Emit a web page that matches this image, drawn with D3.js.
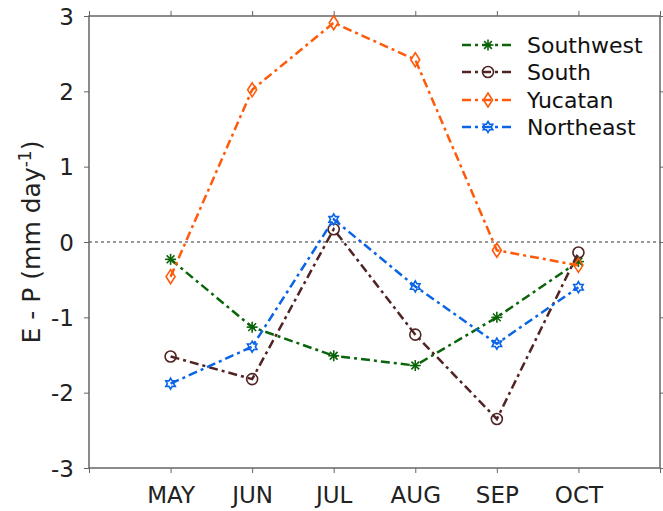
<!DOCTYPE html>
<html><head><meta charset="utf-8">
<script src="https://cdn.jsdelivr.net/npm/d3@7"></script>
<style>body{margin:0;background:#fff}svg{display:block}text{font-family:"DejaVu Sans",sans-serif}</style>
</head><body><svg id="c" width="663" height="511"></svg>
<script>
const months = ["MAY","JUN","JUL","AUG","SEP","OCT"];
const yTicks = [-3,-2,-1,0,1,2,3];
const seriesNames = ["Southwest","South","Yucatan","Northeast"];
const southwest = [-0.23,-1.13,-1.51,-1.64,-1.00,-0.26];
const south = [-1.52,-1.82,0.17,-1.23,-2.35,-0.14];
const yucatan = [-0.46,2.02,2.91,2.42,-0.11,-0.31];
const northeast = [-1.88,-1.39,0.30,-0.59,-1.35,-0.60];
const colors = ["#0a640a","#512424","#ff5a0a","#0a64e6"];
const markers = ["asterisk","circle","diamond","hexagram"];
const values = [southwest, south, yucatan, northeast];

const svg = d3.select("#c");
const L=89,R=660,T=16,B=468;
const x = d3.scaleLinear().domain([0,7]).range([L,R]);
const y = d3.scaleLinear().domain([-3,3]).range([B,T]);
const axisColor="#666";
const g = svg.append("g");

// zero line
g.append("line").attr("x1",L).attr("x2",R).attr("y1",y(0)).attr("y2",y(0))
 .attr("stroke","#333").attr("stroke-width",1).attr("stroke-dasharray","3,3");

function styleAxis(sel){
  sel.select(".domain").remove();
  sel.selectAll(".tick line").attr("stroke",axisColor).attr("stroke-width",1);
  sel.selectAll(".tick text").attr("fill","#222").style("font-size","23px").style("font-family","DejaVu Sans");
}
const xt=[0,1,2,3,4,5,6,7];
const xb = g.append("g").attr("transform",`translate(0,${B})`)
 .call(d3.axisBottom(x).tickValues(xt).tickSize(5).tickPadding(14).tickFormat(d=>(d>=1&&d<=6)?months[d-1]:""));
styleAxis(xb);
const xtop = g.append("g").attr("transform",`translate(0,${T})`)
 .call(d3.axisTop(x).tickValues(xt).tickSize(5).tickFormat(""));
styleAxis(xtop);
const yl = g.append("g").attr("transform",`translate(${L},0)`)
 .call(d3.axisLeft(y).tickValues(yTicks).tickSize(5).tickPadding(10).tickFormat(d=>String(d)));
styleAxis(yl);
yl.selectAll(".tick text").attr("dy","0.36em");
const yr = g.append("g").attr("transform",`translate(${R},0)`)
 .call(d3.axisRight(y).tickValues(yTicks).tickSize(5).tickFormat(""));
styleAxis(yr);
g.append("rect").attr("x",L).attr("y",T).attr("width",R-L).attr("height",B-T)
 .attr("fill","none").attr("stroke",axisColor).attr("stroke-width",1.5);

// y label
const lab = g.append("text").attr("transform",`translate(40,${(T+B)/2}) rotate(-90)`)
 .attr("text-anchor","middle").style("font-size","25px").attr("fill","#222");
lab.append("tspan").text("E - P (mm day");
lab.append("tspan").attr("dy","-9").style("font-size","17px").text("-1");
lab.append("tspan").attr("dy","9").text(")");

function drawMarker(sel,type,color){
  if(type==="asterisk"){
    const r=5.5;
    [0,45,90,135].forEach(a=>{
      const rad=a*Math.PI/180;
      sel.append("line").attr("x1",-r*Math.cos(rad)).attr("y1",-r*Math.sin(rad))
        .attr("x2",r*Math.cos(rad)).attr("y2",r*Math.sin(rad))
        .attr("stroke",color).attr("stroke-width",1.6);
    });
  } else if(type==="circle"){
    sel.append("circle").attr("r",5.5).attr("fill","none").attr("stroke",color).attr("stroke-width",1.6);
  } else if(type==="diamond"){
    sel.append("path").attr("d","M0,-7L4.5,0L0,7L-4.5,0Z").attr("fill","none").attr("stroke",color).attr("stroke-width",1.6);
  } else if(type==="hexagram"){
    const pts=[];
    for(let i=0;i<12;i++){
      const a=-Math.PI/2+i*Math.PI/6;
      const rr=(i%2===0)?5.5:3.2;
      pts.push([rr*Math.cos(a),rr*Math.sin(a)]);
    }
    sel.append("path").attr("d","M"+pts.map(p=>p.join(",")).join("L")+"Z")
      .attr("fill","none").attr("stroke",color).attr("stroke-width",1.6);
  }
}

const line = d3.line().x((d,i)=>x(i+1)).y(d=>y(d));
const dash="9,4,3,4";
values.forEach((vals,k)=>{
  g.append("path").datum(vals).attr("d",line).attr("fill","none")
   .attr("stroke",colors[k]).attr("stroke-width",2.5).attr("stroke-dasharray",dash);
  vals.forEach((v,i)=>{
    const m=g.append("g").attr("transform",`translate(${x(i+1)},${y(v)})`);
    drawMarker(m,markers[k],colors[k]);
  });
});

// legend
const legY=[45,72,100,127];
seriesNames.forEach((name,k)=>{
  const ly=legY[k];
  g.append("line").attr("x1",462).attr("x2",514).attr("y1",ly).attr("y2",ly)
   .attr("stroke",colors[k]).attr("stroke-width",2.5).attr("stroke-dasharray","9,4,3,4");
  const m=g.append("g").attr("transform",`translate(488,${ly})`);
  drawMarker(m,markers[k],colors[k]);
  g.append("text").attr("x",527).attr("y",ly).attr("dy","0.36em").style("font-size","22px")
   .attr("fill","#111").text(name);
});
</script></body></html>
